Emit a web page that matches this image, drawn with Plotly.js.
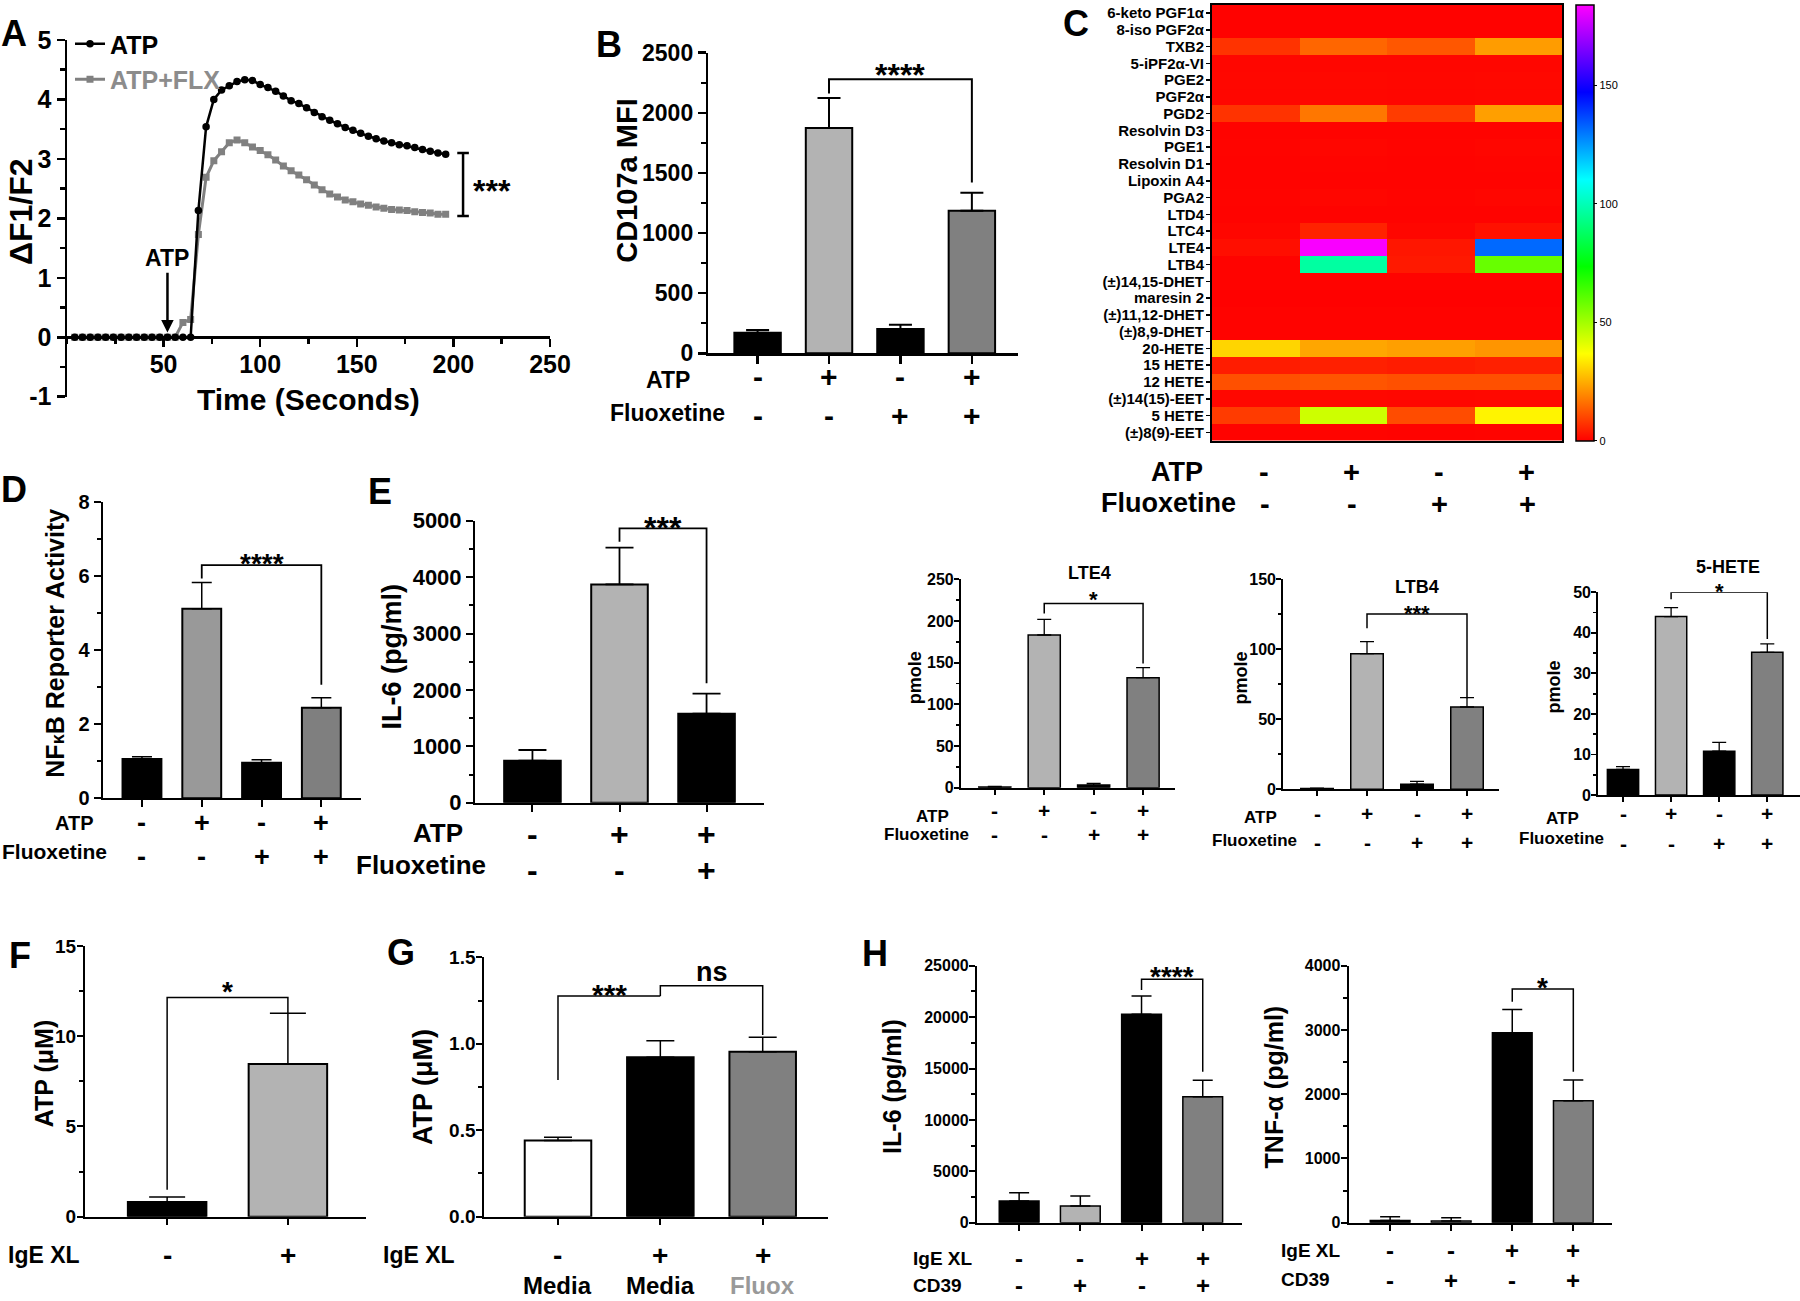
<!DOCTYPE html>
<html><head><meta charset="utf-8">
<script src="https://cdn.plot.ly/plotly-3.0.1.min.js"></script>
<style>html,body{margin:0;padding:0;background:#fff}</style>
</head><body><div id="fig" style="width:1800px;height:1301px"></div>
<script>
// ---------------- DATA ----------------
// Panel A: calcium flux
const timeSec = [4,8,12,16,20,24,28,32,36,40,44,48,52,56,60,64,68,72,76,80,84,88,92,96,100,104,108,112,116,120,124,128,132,136,140,144,148,152,156,160,164,168,172,176,180,184,188,192,196];
const atpRatio = [0,0,0,0,0,0,0,0,0,0,0,0,0,0,0,0,2.13,3.54,4.00,4.16,4.23,4.30,4.33,4.32,4.25,4.20,4.14,4.06,3.98,3.93,3.86,3.78,3.71,3.65,3.59,3.53,3.48,3.43,3.38,3.34,3.30,3.27,3.24,3.22,3.19,3.16,3.13,3.10,3.08];
const atpFlxRatio = [0,0,0,0,0,0,0,0,0,0,0,0,0,0,0.25,0.30,1.73,2.69,2.97,3.12,3.27,3.32,3.27,3.20,3.14,3.07,2.98,2.88,2.80,2.73,2.65,2.56,2.48,2.41,2.36,2.31,2.28,2.24,2.22,2.19,2.17,2.15,2.14,2.13,2.11,2.10,2.09,2.07,2.07];

// sign rows
const atpSigns4 = ['-','+','-','+'];
const flxSigns4 = ['-','-','+','+'];
const atpSigns3 = ['-','+','+'];
const flxSigns3 = ['-','-','+'];
const igeSigns2 = ['-','+'];
const igeSigns3 = ['-','+','+'];
const mediaLabels = ['Media','Media','Fluox'];
const igeSigns4 = ['-','-','+','+'];
const cd39Signs4 = ['-','+','-','+'];

// Panel B: CD107a MFI
const cd107aMean = [171, 1874, 202, 1186];
const cd107aSem  = [23, 249, 36, 150];

// Panel C: lipid heatmap (pmole)
const lipidNames = ['6-keto PGF1α','8-iso PGF2α','TXB2','5-iPF2α-VI','PGE2','PGF2α','PGD2','Resolvin D3','PGE1','Resolvin D1','Lipoxin A4','PGA2','LTD4','LTC4','LTE4','LTB4','(±)14,15-DHET','maresin 2','(±)11,12-DHET','(±)8,9-DHET','20-HETE','15 HETE','12 HETE','(±)14(15)-EET','5 HETE','(±)8(9)-EET'];
const heatVehicle = [0.3,0.3,7.4,0.8,1.0,0.8,7.4,0.4,0.6,0.5,0.5,0.6,0.4,0.8,2.0,0.5,0.4,0.2,0.4,0.4,30.7,4.0,11.5,1.0,8.5,0.5];
const heatAtp     = [0.3,0.3,14.7,0.8,1.2,1.0,17.2,0.4,0.8,0.6,0.5,0.8,0.5,4.9,183.2,96.9,0.4,0.2,0.4,0.4,24.0,4.6,12.3,1.2,44.0,0.6];
const heatFlx     = [0.3,0.3,12.5,0.8,1.0,0.8,8.6,0.4,0.6,0.5,0.5,0.6,0.4,0.8,3.2,3.6,0.4,0.2,0.4,0.4,23.0,4.0,11.5,1.0,11.0,0.5];
const heatAtpFlx  = [0.3,0.3,22.5,0.8,1.2,1.0,23.0,0.4,0.8,0.6,0.5,0.8,0.5,2.5,132.0,58.8,0.4,0.2,0.4,0.4,21.5,4.6,11.5,1.2,35.2,0.6];
const heatMax = 184;

// Panel D: NFkB reporter
const nfkbMean = [1.06, 5.11, 0.96, 2.44];
const nfkbSem  = [0.06, 0.71, 0.08, 0.27];

// Panel E: IL-6
const il6EMean = [745, 3871, 1578];
const il6ESem  = [189, 650, 355];

// Lipid bar panels
const lte4Mean = [0.8, 183.2, 3.2, 132.0];
const lte4Sem  = [0.8, 18.8, 2.0, 12.0];
const ltb4Mean = [0.5, 96.9, 3.6, 58.8];
const ltb4Sem  = [0.3, 8.6, 2.1, 6.7];
const hete5Mean = [6.3, 44.0, 10.8, 35.2];
const hete5Sem  = [0.7, 2.2, 2.2, 2.1];

// Panel F: ATP release
const atpFMean = [0.81, 8.46];
const atpFSem  = [0.28, 2.81];

// Panel G: ATP release with fluoxetine
const atpGMean = [0.44, 0.922, 0.954];
const atpGSem  = [0.019, 0.096, 0.083];

// Panel H: IL-6 and TNF-a with CD39
const il6HMean = [2108, 1621, 20266, 12257];
const il6HSem  = [810, 973, 1783, 1589];
const tnfHMean = [36, 26, 2957, 1899];
const tnfHSem  = [57, 52, 363, 321];

// ---------------- LAYOUT HELPERS ----------------
const W = 1800, H = 1301;
const FAM = 'Arial, "Liberation Sans", Helvetica, sans-serif';
const BAR4 = ['#000000','#b3b3b3','#000000','#808080'];

const traces = [];
const layout = {
  width: W, height: H, margin: {l:0, r:0, t:0, b:0},
  paper_bgcolor: 'white', plot_bgcolor: 'rgba(0,0,0,0)',
  font: {family: FAM, color: 'black', weight: 'bold'},
  showlegend: true,
  legend: {x: 70/W, y: 1-21/H, xanchor: 'left', yanchor: 'top', bgcolor: 'rgba(0,0,0,0)',
           font: {family: FAM, size: 25, color: 'black', weight: 'bold'}, itemwidth: 30, tracegroupgap: 0},
  annotations: [], shapes: []
};
const px = x => x / W;
const py = y => 1 - y / H;

function txt(x, y, text, size, o = {}) {
  layout.annotations.push({xref: 'paper', yref: 'paper', x: px(x), y: py(y), text: text, showarrow: false,
    font: {family: FAM, size: size, color: o.color || 'black', weight: 'bold'},
    xanchor: o.xa || 'center', yanchor: 'middle', textangle: o.rot || 0});
}
function signRow(n, signs, y, size, o = {}) {
  signs.forEach((s, i) => layout.annotations.push({xref: 'x' + n, yref: 'paper', x: i, y: py(y), text: s,
    showarrow: false, xshift: o.xshift || 0, font: {family: FAM, size: size, color: (o.colors ? o.colors[i] : 'black'), weight: 'bold'},
    xanchor: 'center', yanchor: 'middle'}));
}
function bracket(n, a, b, yl, yt, yr, w) {
  layout.shapes.push({type: 'path', xref: 'x' + n, yref: 'y' + n,
    path: `M${a},${yl} L${a},${yt} L${b},${yt} L${b},${yr}`, line: {color: 'black', width: w || 2}});
}
function stars(n, xc, cy, text, size, isText) {
  const shift = isText ? 0 : 0.22 * size;
  layout.annotations.push({xref: 'x' + n, yref: 'paper', x: xc, y: py(cy + shift), text: text, showarrow: false,
    font: {family: FAM, size: size, color: 'black', weight: 'bold'}, xanchor: 'center', yanchor: 'middle'});
}
function barPanel(n, c) {
  const xs = c.mean.map((_, i) => i);
  layout['xaxis' + n] = {domain: [px(c.box[0]), px(c.box[1])], range: c.xr, anchor: 'y' + n,
    showline: true, linecolor: 'black', linewidth: c.axW, ticks: 'outside', tickvals: xs, ticklen: c.tl,
    tickwidth: c.axW, tickcolor: 'black', showticklabels: false, showgrid: false, zeroline: false, fixedrange: true};
  layout['yaxis' + n] = {domain: [py(c.box[3]), py(c.box[2])], range: [0, c.ymax], anchor: 'x' + n,
    showline: true, linecolor: 'black', linewidth: c.axW, ticks: 'outside', ticklen: c.tl, tickwidth: c.axW,
    tickcolor: 'black', tick0: 0, dtick: c.dtick, tickformat: c.fmt || 'd', ticklabelstandoff: c.so || 0,
    tickfont: {family: FAM, size: c.tf, color: 'black', weight: 'bold'},
    minor: {ticks: 'outside', tick0: 0, dtick: c.minor, ticklen: Math.round(c.tl * 0.6), tickwidth: c.axW, tickcolor: 'black', showgrid: false},
    showgrid: false, zeroline: false, fixedrange: true};
  traces.push({type: 'bar', x: xs, y: c.mean, xaxis: 'x' + n, yaxis: 'y' + n, width: c.bw || 0.65,
    marker: {color: c.colors, line: {color: 'black', width: c.lw}},
    error_y: {type: 'data', symmetric: false, array: c.sem, arrayminus: c.sem.map(() => 0),
              color: 'black', thickness: c.ew || 2, width: c.cap},
    showlegend: false, hoverinfo: 'skip'});
}

// ---------------- PANEL A ----------------
traces.push({type: 'scatter', mode: 'lines+markers', x: timeSec, y: atpFlxRatio, xaxis: 'x', yaxis: 'y',
  name: '<span style="color:#8c8c8c">ATP+FLX</span>', legendrank: 2,
  line: {color: '#808080', width: 3}, marker: {symbol: 'square', size: 7, color: '#808080'}, hoverinfo: 'skip'});
traces.push({type: 'scatter', mode: 'lines+markers', x: timeSec, y: atpRatio, xaxis: 'x', yaxis: 'y',
  name: 'ATP', legendrank: 1,
  line: {color: 'black', width: 2.5}, marker: {symbol: 'circle', size: 7.5, color: 'black'}, hoverinfo: 'skip'});
const aTop = 40, aBot = 396.7, aYmin = -1, aYmax = 5;
layout.yaxis = {domain: [py(aBot), py(aTop)], range: [aYmin, aYmax], anchor: 'x', showline: true, linecolor: 'black',
  linewidth: 2.5, ticks: 'outside', ticklen: 8, tickwidth: 2.5, tickcolor: 'black',
  tickvals: [-1,0,1,2,3,4,5], ticktext: ['-1','0','1','2','3','4','5'],
  tickfont: {family: FAM, size: 25, weight: 'bold'},
  minor: {ticks: 'outside', tick0: 0, dtick: 0.5, ticklen: 5, tickwidth: 2.5, tickcolor: 'black', showgrid: false},
  showgrid: false, zeroline: false, fixedrange: true};
const aZeroPaper = py(aBot) + (0 - aYmin) / (aYmax - aYmin) * (py(aTop) - py(aBot));
layout.xaxis = {domain: [px(67), px(550)], range: [0, 250], anchor: 'free', position: aZeroPaper,
  showline: true, linecolor: 'black', linewidth: 2.5, ticks: 'outside', ticklen: 8, tickwidth: 2.5, tickcolor: 'black',
  tickvals: [50,100,150,200,250], tickfont: {family: FAM, size: 25, weight: 'bold'}, ticklabelstandoff: -4,
  minor: {ticks: 'outside', tick0: 0, dtick: 25, ticklen: 5, tickwidth: 2.5, tickcolor: 'black', showgrid: false},
  showgrid: false, zeroline: false, fixedrange: true};
layout.annotations.push({xref: 'x', yref: 'y', x: 52, y: 0.08, axref: 'x', ayref: 'y', ax: 52, ay: 1.33,
  text: 'ATP', showarrow: true, arrowhead: 2, arrowsize: 1, arrowwidth: 2.5, arrowcolor: 'black',
  font: {family: FAM, size: 23, color: 'black', weight: 'bold'}});
layout.shapes.push({type: 'path', xref: 'x', yref: 'y',
  path: 'M202,3.1 L208,3.1 M205,3.1 L205,2.04 M202,2.04 L208,2.04', line: {color: 'black', width: 2.5}});
layout.annotations.push({xref: 'x', yref: 'paper', x: 209, y: py(184 + 7), text: '***', showarrow: false,
  xanchor: 'left', yanchor: 'middle', font: {family: FAM, size: 32, color: 'black', weight: 'bold'}});
txt(308, 399, 'Time (Seconds)', 30);
txt(21, 212, 'ΔF1/F2', 32, {rot: -90});

// ---------------- PANEL B ----------------
barPanel(2, {box: [708.3, 1018.3, 52.7, 353.3], xr: [-0.69, 3.65], ymax: 2500, dtick: 500, minor: 250, tf: 23,
  axW: 2.5, tl: 8, mean: cd107aMean, sem: cd107aSem, colors: BAR4, lw: 2, cap: 11.5, ew: 2});
bracket(2, 1, 3, 2160, 2280, 1420, 2);
stars(2, 2, 68.3, '****', 32);
txt(626.7, 181, 'CD107a MFI', 29, {rot: -90});
txt(691.7, 380, 'ATP', 23, {xa: 'right'});
txt(726.7, 413, 'Fluoxetine', 23, {xa: 'right'});
signRow(2, atpSigns4, 377, 30);
signRow(2, flxSigns4, 415, 30);

// ---------------- PANEL C (heatmap) ----------------
const heatZ = lipidNames.map((_, i) => [heatVehicle[i], heatAtp[i], heatFlx[i], heatAtpFlx[i]]);
traces.push({type: 'heatmap', z: heatZ, x: [0,1,2,3], y: lipidNames, xaxis: 'x3', yaxis: 'y3',
  zmin: 0, zmax: heatMax,
  colorscale: [[0,'#ff0000'],[0.2,'#ffff00'],[0.4,'#00ff00'],[0.6,'#00ffff'],[0.8,'#0000ff'],[1,'#ff00ff']],
  showscale: true, hoverinfo: 'skip',
  colorbar: {x: px(1576), xanchor: 'left', y: py(4.7), yanchor: 'top', len: 436/H, lenmode: 'fraction',
    thickness: 18, thicknessmode: 'pixels', xpad: 0, ypad: 0, outlinewidth: 1.5, outlinecolor: 'black',
    tickvals: [0,50,100,150], ticks: 'outside', ticklen: 3, tickcolor: 'black',
    tickfont: {family: FAM, size: 11, color: 'black', weight: 'normal'}}});
layout.xaxis3 = {domain: [px(1212), px(1562)], range: [-0.5, 3.5], anchor: 'y3', showline: true, mirror: true,
  linecolor: 'black', linewidth: 2, ticks: '', showticklabels: false, showgrid: false, zeroline: false, fixedrange: true};
layout.yaxis3 = {domain: [py(440.7), py(4.7)], type: 'category', autorange: 'reversed', anchor: 'x3', showline: true, mirror: true,
  tickmode: 'linear', dtick: 1, tick0: 0,
  linecolor: 'black', linewidth: 2, ticks: 'outside', ticklen: 4, tickwidth: 1.5, tickcolor: 'black', ticklabelstandoff: -1,
  tickfont: {family: FAM, size: 15, color: 'black', weight: 'bold'}, showgrid: false, zeroline: false, fixedrange: true};
txt(1205, 471.7, 'ATP', 27, {xa: 'right'});
txt(1237.6, 503.3, 'Fluoxetine', 27, {xa: 'right'});
signRow(3, atpSigns4, 471.7, 29, {xshift: 8});
signRow(3, flxSigns4, 504, 29, {xshift: 9});

// ---------------- PANEL D ----------------
barPanel(4, {box: [102.5, 361.4, 501.7, 798.3], xr: [-0.66, 3.67], ymax: 8, dtick: 2, minor: 1, tf: 20,
  axW: 2, tl: 7, mean: nfkbMean, sem: nfkbSem, colors: ['#000000','#999999','#000000','#7f7f7f'], lw: 2, cap: 10, ew: 1.5});
bracket(4, 1, 3, 5.93, 6.29, 3.06, 1.8);
stars(4, 2, 557.5, '****', 28);
txt(55.4, 643.3, 'NF<span style="font-size:18px">κ</span>B Reporter Activity', 25, {rot: -90});
txt(96.4, 823.3, 'ATP', 20, {xa: 'right'});
txt(109, 851.7, 'Fluoxetine', 21, {xa: 'right'});
signRow(4, atpSigns4, 823.3, 27);
signRow(4, flxSigns4, 856.7, 27);

// ---------------- PANEL E ----------------
barPanel(5, {box: [475, 764, 520.7, 802.7], xr: [-0.66, 2.66], ymax: 5000, dtick: 1000, minor: 500, tf: 22,
  axW: 2, tl: 7, mean: il6EMean, sem: il6ESem, colors: ['#000000','#b3b3b3','#000000'], lw: 2, cap: 14, ew: 1.8});
bracket(5, 1, 2, 4628, 4864, 2116, 1.8);
stars(5, 1.5, 520.5, '***', 32);
txt(391.7, 656.7, 'IL-6 (pg/ml)', 27, {rot: -90});
txt(465, 833.3, 'ATP', 26, {xa: 'right'});
txt(488.3, 865, 'Fluoxetine', 26, {xa: 'right'});
signRow(5, atpSigns3, 834, 32);
signRow(5, flxSigns3, 870, 32);

// ---------------- LTE4 / LTB4 / 5-HETE ----------------
barPanel(6, {box: [960.7, 1175.2, 579.3, 787.7], xr: [-0.69, 3.65], ymax: 250, dtick: 50, minor: 25, tf: 16, so: -3,
  axW: 1.8, tl: 5, mean: lte4Mean, sem: lte4Sem, colors: BAR4, lw: 1.5, cap: 7, ew: 1.3});
bracket(6, 1, 3, 209, 221, 149, 1.5);
stars(6, 2, 595, '*', 22);
txt(1089.5, 573.3, 'LTE4', 18);
txt(915, 678.3, 'pmole', 18, {rot: -90});
txt(951, 816, 'ATP', 17, {xa: 'right'});
txt(971, 834, 'Fluoxetine', 17, {xa: 'right'});
signRow(6, atpSigns4, 810, 21);
signRow(6, flxSigns4, 834, 21);

barPanel(7, {box: [1283, 1499, 579.3, 789.3], xr: [-0.68, 3.64], ymax: 150, dtick: 50, minor: 25, tf: 16, so: -3,
  axW: 1.8, tl: 5, mean: ltb4Mean, sem: ltb4Sem, colors: BAR4, lw: 1.5, cap: 7, ew: 1.3});
bracket(7, 1, 3, 115, 125.2, 65, 1.5);
stars(7, 2, 608.3, '***', 22);
txt(1417, 586.7, 'LTB4', 18);
txt(1241.3, 678.3, 'pmole', 18, {rot: -90});
txt(1279, 817, 'ATP', 17, {xa: 'right'});
txt(1298.6, 840, 'Fluoxetine', 17, {xa: 'right'});
signRow(7, atpSigns4, 813, 21);
signRow(7, flxSigns4, 842, 21);

barPanel(8, {box: [1598, 1800, 592.3, 795], xr: [-0.52, 3.68], ymax: 50, dtick: 10, minor: 5, tf: 16, so: -3,
  axW: 1.8, tl: 5, mean: hete5Mean, sem: hete5Sem, colors: BAR4, lw: 1.5, cap: 7, ew: 1.3});
bracket(8, 1, 3, 48.3, 50, 38.5, 1.5);
stars(8, 2, 586.7, '*', 22);
txt(1728, 566.7, '5-HETE', 18);
txt(1553.7, 686.7, 'pmole', 18, {rot: -90});
txt(1581, 818, 'ATP', 17, {xa: 'right'});
txt(1606, 838.3, 'Fluoxetine', 17, {xa: 'right'});
signRow(8, atpSigns4, 813, 21);
signRow(8, flxSigns4, 843, 21);

// ---------------- PANEL F ----------------
barPanel(9, {box: [85, 366.4, 946, 1216.7], xr: [-0.68, 1.65], ymax: 15, dtick: 5, minor: 2.5, tf: 19, so: -3,
  axW: 2, tl: 6, mean: atpFMean, sem: atpFSem, colors: ['#000000','#b3b3b3'], lw: 2, cap: 18, ew: 1.5});
bracket(9, 0, 1, 1.5, 12.14, 11.27, 1.5);
stars(9, 0.5, 985, '*', 28);
txt(43.9, 1073.3, 'ATP (μM)', 25, {rot: -90});
txt(5.5, 1255, 'IgE XL', 23, {xa: 'left'});
signRow(9, igeSigns2, 1255, 28);

// ---------------- PANEL G ----------------
barPanel(10, {box: [484.3, 828.2, 957.3, 1216.7], xr: [-0.72, 2.64], ymax: 1.5, dtick: 0.5, minor: 0.25, tf: 19, so: -3,
  fmt: '.1f', axW: 2, tl: 6, mean: atpGMean, sem: atpGSem, colors: ['#ffffff','#000000','#808080'], lw: 2, cap: 14, ew: 1.5});
bracket(10, 0, 1, 0.79, 1.276, 1.276, 1.5);
bracket(10, 1, 2, 1.276, 1.336, 1.05, 1.5);
stars(10, 0.5, 988.3, '***', 30);
stars(10, 1.5, 971.7, 'ns', 27, true);
txt(422.3, 1086.7, 'ATP (μM)', 27, {rot: -90});
txt(381.2, 1255, 'IgE XL', 23, {xa: 'left'});
signRow(10, igeSigns3, 1255, 28);
signRow(10, mediaLabels, 1285, 24, {colors: ['#000000','#000000','#999999']});

// ---------------- PANEL H ----------------
barPanel(11, {box: [976.9, 1241.9, 965.7, 1222.7], xr: [-0.69, 3.64], ymax: 25000, dtick: 5000, minor: 2500, tf: 16, so: -3,
  axW: 2, tl: 6, mean: il6HMean, sem: il6HSem, colors: BAR4, lw: 1.5, cap: 10, ew: 1.5});
bracket(11, 2, 3, 22633, 23671, 14689, 1.5);
stars(11, 2.5, 970, '****', 28);
txt(891.2, 1086.7, 'IL-6 (pg/ml)', 25, {rot: -90});
txt(911, 1258, 'IgE XL', 19, {xa: 'left'});
txt(911, 1285, 'CD39', 19, {xa: 'left'});
signRow(11, igeSigns4, 1258, 24);
signRow(11, cd39Signs4, 1285, 24);

barPanel(12, {box: [1348.6, 1612.4, 965.7, 1222.7], xr: [-0.68, 3.64], ymax: 4000, dtick: 1000, minor: 500, tf: 16, so: -3,
  axW: 2, tl: 6, mean: tnfHMean, sem: tnfHSem, colors: BAR4, lw: 1.5, cap: 10, ew: 1.5});
bracket(12, 2, 3, 3440, 3637, 2350, 1.5);
stars(12, 2.5, 981.7, '*', 28);
txt(1273.7, 1086.7, 'TNF-α (pg/ml)', 25, {rot: -90});
txt(1278.5, 1250, 'IgE XL', 19, {xa: 'left'});
txt(1278.5, 1279, 'CD39', 19, {xa: 'left'});
signRow(12, igeSigns4, 1250, 24);
signRow(12, cd39Signs4, 1280, 24);

// ---------------- PANEL LETTERS ----------------
[['A',14,33],['B',609,45],['C',1076,23],['D',14,490],['E',380,491],['F',20,955],['G',401,952],['H',875,953]]
  .forEach(l => txt(l[1], l[2], l[0], 36));

Plotly.newPlot('fig', traces, layout, {staticPlot: true, displayModeBar: false});
</script></body></html>
